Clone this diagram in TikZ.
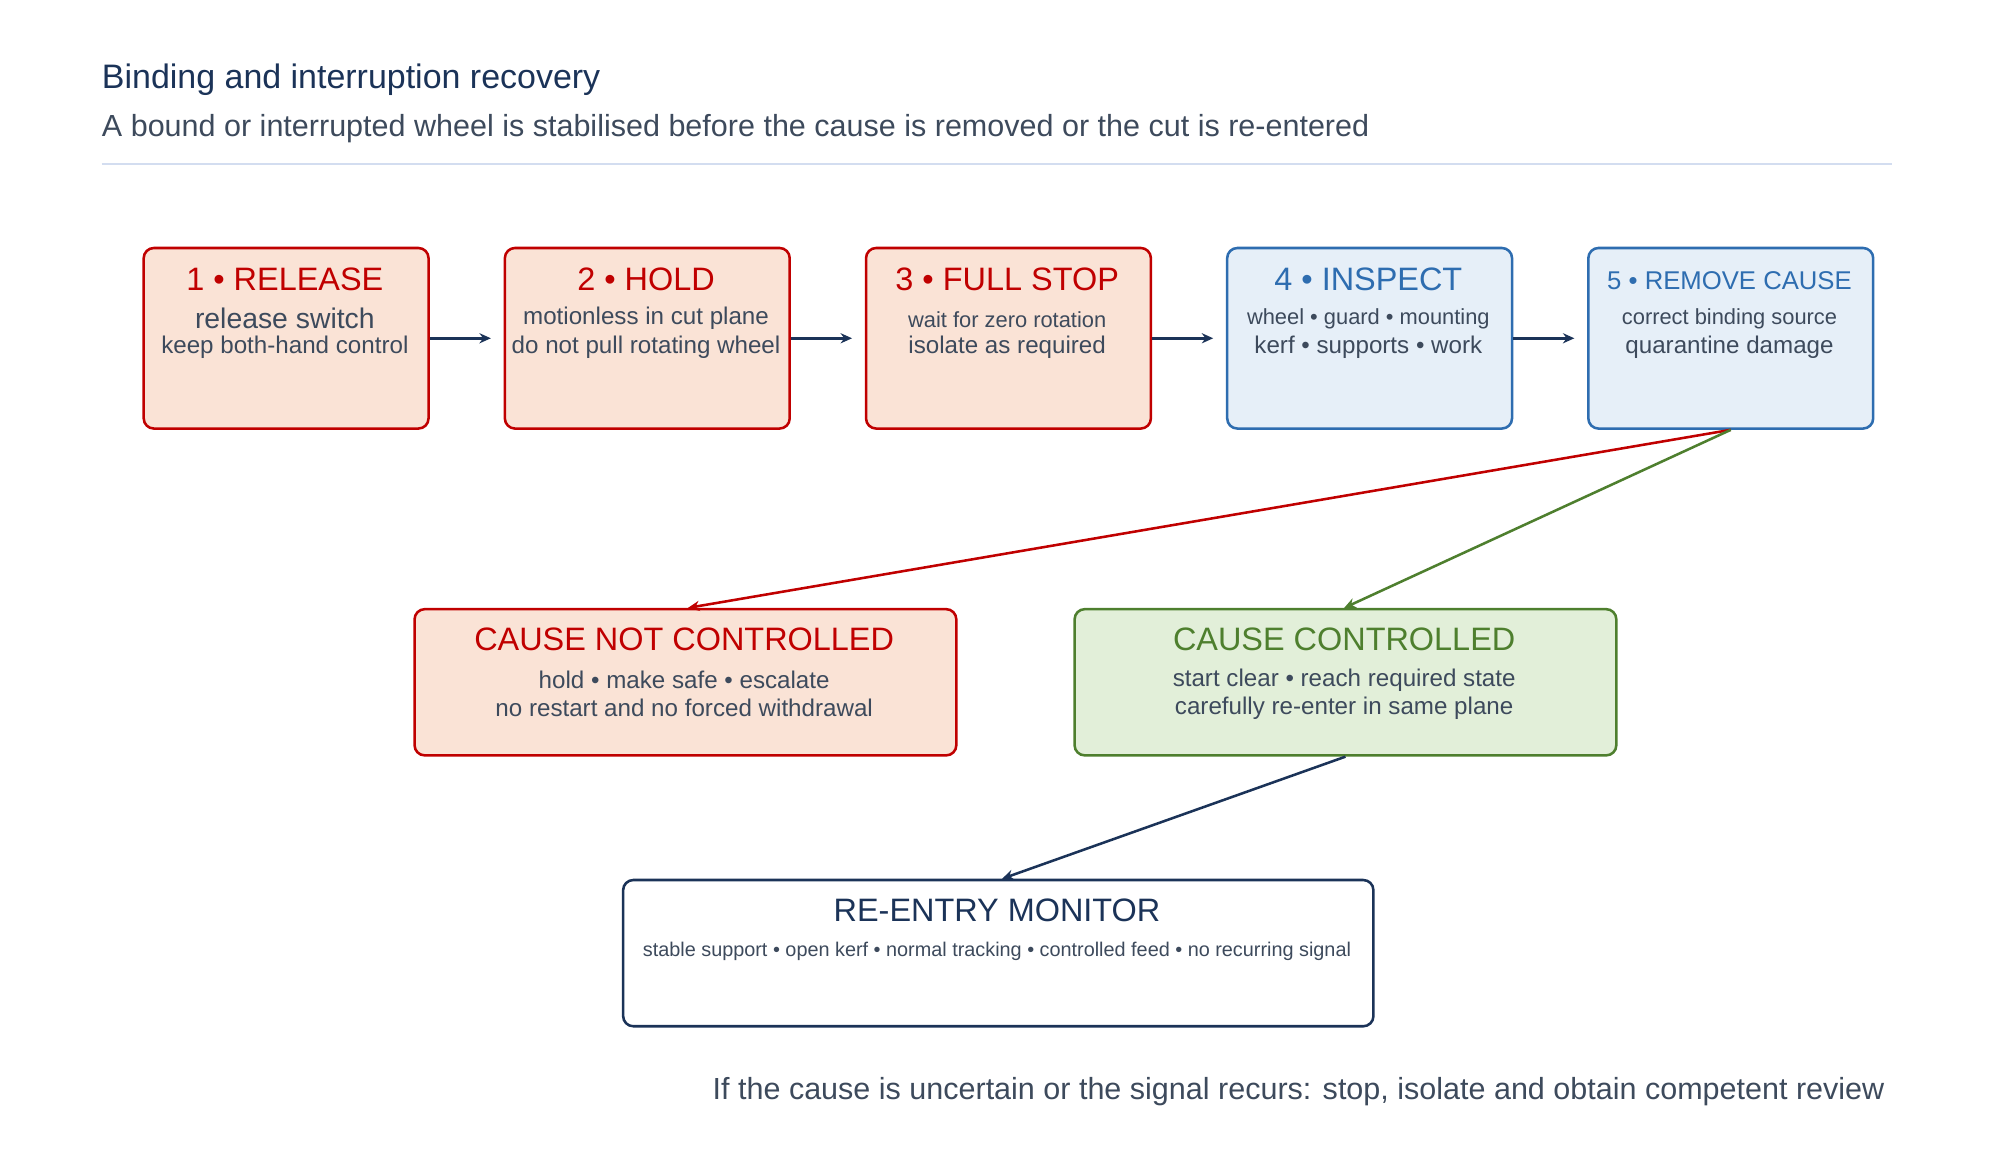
\documentclass[tikz,border=0pt]{standalone}
\usepackage{fontspec}
\setmainfont{Liberation Sans}
\usetikzlibrary{arrows.meta}
\definecolor{rd}{HTML}{C00000}\definecolor{rdf}{HTML}{FAE3D6}
\definecolor{bl}{HTML}{2E6DB0}\definecolor{blf}{HTML}{E6EFF8}
\definecolor{gn}{HTML}{4E7F2E}\definecolor{gnf}{HTML}{E2EFD9}
\definecolor{nv}{HTML}{1B3358}\definecolor{tx}{HTML}{3D4A5C}
\definecolor{rule}{HTML}{D3DDF0}
\tikzset{
 box/.style={draw, line width=2pt, rounded corners=8pt, anchor=north west, inner sep=0pt},
 rbox/.style={box, draw=rd, fill=rdf},
 bbox/.style={box, draw=bl, fill=blf},
 gbox/.style={box, draw=gn, fill=gnf},
 nbox/.style={box, draw=nv, fill=white},
 ttl/.style={font=\fontsize{25.5}{28}\selectfont, inner sep=0pt},
 big/.style={font=\fontsize{19}{21}\selectfont, text=tx, inner sep=0pt},
 sml/.style={font=\fontsize{17.2}{19}\selectfont, text=tx, inner sep=0pt},
 arr/.style={line width=2pt, -{Stealth[length=9pt,width=8pt]}},
}
\begin{document}
\begin{tikzpicture}[x=1pt,y=-1pt]
\useasboundingbox (0,0) rectangle (1568,913);
\node[anchor=west, font=\fontsize{26.7}{29}\selectfont, text=nv, inner sep=0pt] (t) at (80,63) {Binding and interruption recovery};
\node[anchor=west, font=\fontsize{24}{26}\selectfont, text=tx, inner sep=0pt] (st) at (80,101) {A bound or interrupted wheel is stabilised before the cause is removed or the cut is re-entered};
\draw[rule, line width=1.5pt] (80,129) -- (1488,129);
% row 1
\node[rbox, minimum width=224pt, minimum height=142pt] (b1) at (112,194) {};
\node[rbox, minimum width=224pt, minimum height=142pt] (b2) at (396,194) {};
\node[rbox, minimum width=224pt, minimum height=142pt] (b3) at (680,194) {};
\node[bbox, minimum width=224pt, minimum height=142pt] (b4) at (964,194) {};
\node[bbox, minimum width=224pt, minimum height=142pt] (b5) at (1248,194) {};
\node[ttl, text=rd] (h1) at (224,220) {1 • RELEASE};
\node[big, font=\fontsize{22.3}{24}\selectfont] (l1a) at (224,250) {release switch};
\node[big] (l1b) at (224,273) {keep both-hand control};
\node[ttl, text=rd] (h2) at (508,220) {2 • HOLD};
\node[big] (l2a) at (508,250) {motionless in cut plane};
\node[big] (l2b) at (508,273) {do not pull rotating wheel};
\node[ttl, text=rd] (h3) at (792,220) {3 • FULL STOP};
\node[sml] (l3a) at (792,251) {wait for zero rotation};
\node[big] (l3b) at (792,273) {isolate as required};
\node[ttl, text=bl] (h4) at (1076,220) {4 • INSPECT};
\node[sml] (l4a) at (1076,251) {wheel • guard • mounting};
\node[big] (l4b) at (1076,273) {kerf • supports • work};
\node[ttl, text=bl, font=\fontsize{20.2}{22}\selectfont] (h5) at (1360,221) {5 • REMOVE CAUSE};
\node[sml] (l5a) at (1360,251) {correct binding source};
\node[big] (l5b) at (1360,273) {quarantine damage};
% row 2
\node[rbox, minimum width=426pt, minimum height=115pt] (nc) at (325,478) {};
\node[ttl, text=rd] (hnc) at (538,503) {CAUSE NOT CONTROLLED};
\node[big] (lnca) at (538,535) {hold • make safe • escalate};
\node[big] (lncb) at (538,557) {no restart and no forced withdrawal};
\node[gbox, minimum width=426pt, minimum height=115pt] (cc) at (844,478) {};
\node[ttl, text=gn] (hcc) at (1057,503) {CAUSE CONTROLLED};
\node[big] (lcca) at (1057,535) {start clear • reach required state};
\node[big] (lccb) at (1057,557) {carefully re-enter in same plane};
% row 3
\node[nbox, minimum width=590pt, minimum height=115pt] (mo) at (489,691) {};
\node[ttl, text=nv] (hmo) at (784,716) {RE-ENTRY MONITOR};
\node[sml, font=\fontsize{15.6}{17}\selectfont] (lmo) at (784,748) {stable support • open kerf • normal tracking • controlled feed • no recurring signal};
\node[anchor=east, font=\fontsize{24}{26}\selectfont, text=tx, inner sep=0pt] (ft) at (1482,858) {If the cause is uncertain or the signal recurs: stop, isolate and obtain competent review};
% connectors
\draw[arr, nv] (b1.east) -- ([xshift=-10pt]b2.west);
\draw[arr, nv] (b2.east) -- ([xshift=-10pt]b3.west);
\draw[arr, nv] (b3.east) -- ([xshift=-10pt]b4.west);
\draw[arr, nv] (b4.east) -- ([xshift=-10pt]b5.west);
\draw[arr, rd] (b5.south) -- ([xshift=2pt]nc.north);
\draw[arr, gn] (b5.south) -- ([xshift=-1pt]cc.north);
\draw[arr, nv] (cc.south) -- ([xshift=3pt]mo.north);
\end{tikzpicture}
\end{document}
